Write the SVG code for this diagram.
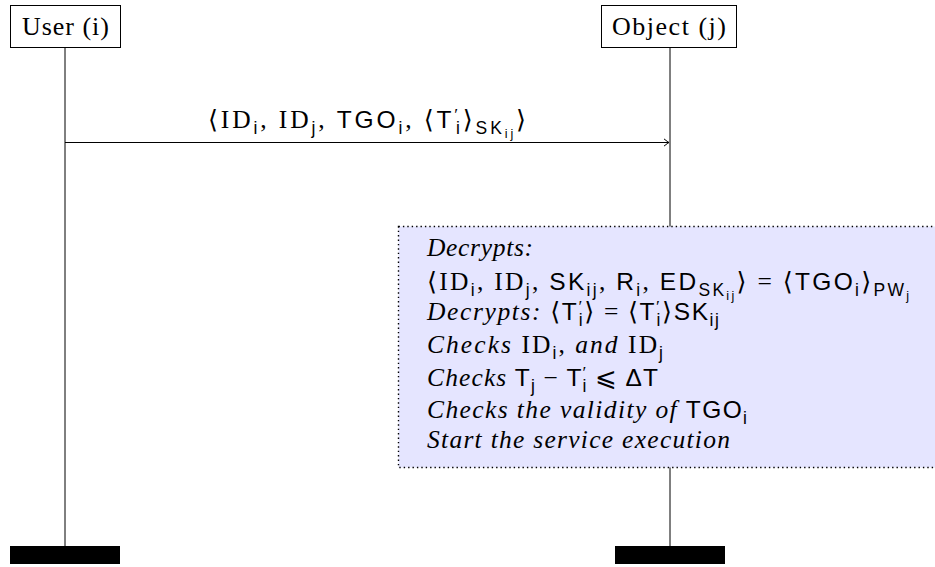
<svg xmlns="http://www.w3.org/2000/svg" width="935" height="567" viewBox="0 0 935 567">
<style>
text{font-family:"Liberation Serif","DejaVu Serif",serif;font-size:25.5px;fill:#000}
.hd{font-size:26px}
.it{font-style:italic}
.sf{font-family:"Liberation Sans","DejaVu Sans",sans-serif;font-size:24.5px}
.s{font-size:17.5px}
.ss{font-size:12.5px}
.life{stroke:#000;stroke-width:1;fill:none}
.hdr{fill:#fff;stroke:#000;stroke-width:1}
.bar{fill:#000}
</style>
<defs>
<marker id="arr" markerUnits="userSpaceOnUse" markerWidth="12" markerHeight="12" refX="0" refY="0" viewBox="-6 -6 12 12" orient="auto" overflow="visible">
<path d="M-5,-3.6 Q-1.2,-0.6 0,0 Q-1.2,0.6 -5,3.6" fill="none" stroke="#000" stroke-width="1"/>
</marker>
</defs>
<g id="lifelines">
<line class="life" x1="65" y1="48" x2="65" y2="546"/>
<line class="life" x1="670" y1="48" x2="670" y2="546"/>
</g>
<g id="user">
<rect class="hdr" x="10.5" y="5.5" width="110" height="42"/>
<text class="hd" x="22" y="35" textLength="87">User (i)</text>
<rect class="bar" x="10" y="546" width="110" height="18"/>
</g>
<g id="object">
<rect class="hdr" x="601.5" y="5.5" width="135" height="42"/>
<text class="hd" x="612" y="35" textLength="114">Object (j)</text>
<rect class="bar" x="615" y="546" width="110" height="18"/>
</g>
<g id="connectors">
<line x1="65" y1="142.5" x2="669" y2="142.5" stroke="#000" stroke-width="1" marker-end="url(#arr)"/>
<text x="208" y="128" textLength="318"><tspan>⟨ID</tspan><tspan class="sf s" dy="6">i</tspan><tspan dy="-6">, ID</tspan><tspan class="sf s" dy="6">j</tspan><tspan dy="-6">, </tspan><tspan class="sf">TGO</tspan><tspan class="sf s" dy="6">i</tspan><tspan dy="-6">, ⟨</tspan><tspan class="sf">T</tspan><tspan class="s" dy="-8">′</tspan><tspan class="sf s" dx="-5" dy="14">i</tspan><tspan dy="-6">⟩</tspan><tspan class="sf s" dy="6">SK</tspan><tspan class="sf ss" dy="4">ij</tspan><tspan dy="-10">⟩</tspan></text>
</g>
<g id="process">
<rect x="398.5" y="226.5" width="545" height="241" fill="#e5e5ff" stroke="#000" stroke-width="1.4" stroke-dasharray="1.4 3"/>
<text x="427" y="256" class="it" textLength="106">Decrypts:</text>
<text x="427" y="290" textLength="482"><tspan>⟨ID</tspan><tspan class="sf s" dy="6">i</tspan><tspan dy="-6">, ID</tspan><tspan class="sf s" dy="6">j</tspan><tspan dy="-6">, </tspan><tspan class="sf">SK</tspan><tspan class="sf s" dy="6">ij</tspan><tspan dy="-6">, </tspan><tspan class="sf">R</tspan><tspan class="sf s" dy="6">i</tspan><tspan dy="-6">, </tspan><tspan class="sf">ED</tspan><tspan class="sf s" dy="6">SK</tspan><tspan class="sf ss" dy="4">ij</tspan><tspan dy="-10">⟩ = ⟨</tspan><tspan class="sf">TGO</tspan><tspan class="sf s" dy="6">i</tspan><tspan dy="-6">⟩</tspan><tspan class="sf s" dy="6">PW</tspan><tspan class="sf ss" dy="4">j</tspan></text>
<text x="427" y="320" textLength="292"><tspan class="it">Decrypts: </tspan><tspan>⟨</tspan><tspan class="sf">T</tspan><tspan class="s" dy="-8">′</tspan><tspan class="sf s" dx="-5" dy="14">i</tspan><tspan dy="-6">⟩ = ⟨</tspan><tspan class="sf">T</tspan><tspan class="s" dy="-8">′</tspan><tspan class="sf s" dx="-5" dy="14">i</tspan><tspan dy="-6">⟩</tspan><tspan class="sf">SK</tspan><tspan class="sf s" dy="6">ij</tspan></text>
<text x="427" y="353" textLength="236"><tspan class="it">Checks </tspan><tspan>ID</tspan><tspan class="sf s" dy="6">i</tspan><tspan dy="-6">, </tspan><tspan class="it">and </tspan><tspan>ID</tspan><tspan class="sf s" dy="6">j</tspan></text>
<text x="427" y="386" textLength="231"><tspan class="it">Checks </tspan><tspan class="sf">T</tspan><tspan class="sf s" dy="6">j</tspan><tspan dy="-6"> − </tspan><tspan class="sf">T</tspan><tspan class="s" dy="-8">′</tspan><tspan class="sf s" dx="-5" dy="14">i</tspan><tspan dy="-6"> ⩽ </tspan><tspan class="sf">ΔT</tspan></text>
<text x="427" y="418" textLength="320"><tspan class="it">Checks the validity of </tspan><tspan class="sf">TGO</tspan><tspan class="sf s" dy="6">i</tspan></text>
<text x="427" y="448" class="it" textLength="303">Start the service execution</text>
</g>
</svg>
